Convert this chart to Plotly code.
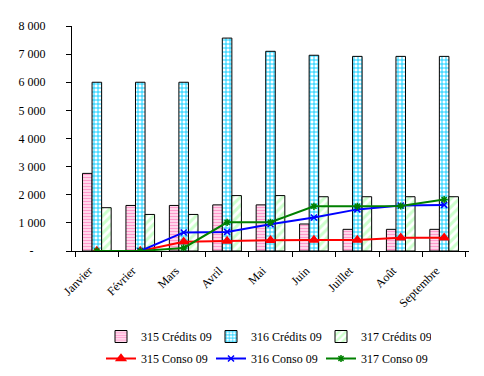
import plotly.graph_objects as go

months = ["Janvier", "Février", "Mars", "Avril", "Mai", "Juin", "Juillet", "Août", "Septembre"]
credits_315 = [2760, 1620, 1620, 1640, 1640, 960, 770, 770, 770]
credits_316 = [6000, 6000, 6000, 7570, 7100, 6960, 6920, 6920, 6920]
credits_317 = [1540, 1300, 1300, 1970, 1970, 1930, 1930, 1930, 1930]
conso_315 = [0, 0, 330, 360, 380, 390, 390, 470, 470]
conso_316 = [None, 0, 660, 680, 950, 1190, 1480, 1620, 1640]
conso_317 = [0, 0, 110, 1020, 1020, 1590, 1590, 1600, 1830]

ytick_vals = [0, 1000, 2000, 3000, 4000, 5000, 6000, 7000, 8000]
ytick_text = ["-\u00a0\u00a0\u00a0\u00a0", "1 000", "2 000", "3 000", "4 000", "5 000", "6 000", "7 000", "8 000"]

FONT = "Times New Roman"
W, H = 476, 368

fig = go.Figure()
bar_specs = [
    ("315 Crédits 09", credits_315, "-", "#FF99CC", 3, 0.6),
    ("316 Crédits 09", credits_316, "+", "#00CCFF", 4, 0.4),
    ("317 Crédits 09", credits_317, "/", "#CCFFCC", 6, 0.5),
]
for name, vals, shape, col, sz, sol in bar_specs:
    fig.add_trace(go.Bar(
        x=months, y=vals, name=name, legend="legend",
        marker=dict(color="white", line=dict(color="black", width=1),
                    pattern=dict(shape=shape, fgcolor=col, bgcolor="white",
                                 size=sz, solidity=sol, fillmode="replace")),
    ))

line_specs = [
    ("315 Conso 09", conso_315, "#FF0000", "triangle-up", 8),
    ("316 Conso 09", conso_316, "#0000FF", "x-thin-open", 6),
    ("317 Conso 09", conso_317, "#008000", "asterisk-open", 6),
]
for name, vals, col, sym, sz in line_specs:
    fig.add_trace(go.Scatter(
        x=months, y=vals, name=name, legend="legend2", mode="lines+markers",
        line=dict(color=col, width=2),
        marker=dict(symbol=sym, size=sz, color=col, line=dict(color=col, width=1.5)),
    ))

fig.update_layout(
    width=W, height=H,
    margin=dict(l=64, r=15, t=18, b=125, autoexpand=False),
    paper_bgcolor="white", plot_bgcolor="white",
    font=dict(family=FONT, size=12, color="black"),
    barmode="group", bargap=0.34, bargroupgap=0,
    showlegend=True,
    legend=dict(orientation="h", xref="container", yref="container",
                x=93/W, y=1-314/H, xanchor="left", yanchor="top",
                entrywidth=65, font=dict(family=FONT, size=12),
                bgcolor="rgba(0,0,0,0)"),
    legend2=dict(orientation="h", xref="container", yref="container",
                 x=93/W, y=1-336/H, xanchor="left", yanchor="top",
                 entrywidth=65, font=dict(family=FONT, size=12),
                 bgcolor="rgba(0,0,0,0)"),
)
fig.update_xaxes(showline=True, linecolor="black", linewidth=1,
                 ticks="outside", ticklen=5, tickcolor="black", tickson="boundaries",
                 tickangle=-45, showgrid=False, zeroline=False,
                 ticklabelshift=-8, ticklabelstandoff=7,
                 tickfont=dict(family=FONT, size=12))
fig.update_yaxes(range=[0, 8000], showline=True, linecolor="black", linewidth=1,
                 ticks="outside", ticklen=5, tickcolor="black",
                 tickvals=ytick_vals, ticktext=ytick_text, ticklabelstandoff=18,
                 showgrid=False, zeroline=False,
                 tickfont=dict(family=FONT, size=12))

fig.write_html("out.html")
